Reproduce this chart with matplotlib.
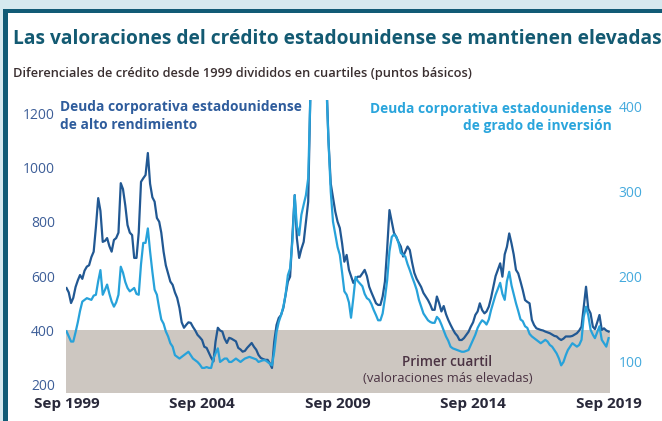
import pandas as pd
import matplotlib
matplotlib.use("Agg")
import matplotlib.pyplot as plt
from matplotlib.patches import Rectangle

plt.rcParams['font.family'] = ['Open Sans', 'DejaVu Sans']

W, H = 662, 421

# monthly spreads, Sep 1999 .. Sep 2019 (basis points)
high_yield = [
    556, 540, 501, 520,
    560, 585, 604, 590, 620, 635, 640, 670, 690, 780, 887, 840,
    726, 730, 740, 710, 690, 733, 740, 760, 942, 920, 860, 788,
    760, 751, 667, 667, 760, 947, 960, 972, 1053, 940, 890, 874,
    814, 800, 760, 690, 640, 610, 580, 568, 540, 520, 483, 430,
    410, 421, 430, 428, 413, 400, 384, 375, 365, 340, 336, 318,
    300, 286, 359, 410, 400, 396, 370, 354, 373, 370, 365, 360,
    336, 330, 322, 325, 336, 345, 354, 340, 329, 310, 299, 295,
    292, 292, 280, 262, 359, 420, 446, 457, 483, 530, 580, 598,
    751, 898, 740, 667, 700, 726, 800, 874, 1300, 1650, 1900, 1850,
    1700, 1650, 1600, 1350, 1100, 940, 890, 837, 800, 777, 720, 653,
    678, 623, 600, 575, 590, 598, 598, 610, 623, 600, 561, 540,
    520, 500, 494, 494, 525, 580, 700, 843, 800, 759, 744, 725,
    709, 672, 690, 709, 696, 650, 612, 590, 575, 560, 538, 525,
    512, 495, 476, 476, 525, 500, 470, 490, 460, 439, 421, 405,
    390, 380, 365, 365, 372, 384, 395, 414, 430, 457, 470, 500,
    475, 463, 470, 488, 520, 561, 600, 623, 647, 598, 680, 708,
    757, 720, 680, 623, 610, 580, 549, 512, 505, 500, 439, 420,
    408, 405, 402, 400, 396, 393, 390, 385, 380, 378, 370, 365,
    370, 378, 378, 378, 380, 385, 390, 400, 414, 488, 561, 480,
    463, 414, 405, 430, 457, 402, 408, 400, 396,
]

investment_grade = [
    136, 130, 124, 124,
    135, 147, 160, 171, 173, 175, 174, 173, 178, 179, 195, 208,
    179, 185, 191, 180, 171, 165, 170, 179, 212, 205, 194, 187,
    183, 185, 187, 180, 179, 215, 240, 240, 257, 230, 206, 185,
    179, 163, 150, 145, 136, 130, 122, 118, 108, 106, 104, 106,
    108, 110, 112, 108, 104, 102, 100, 97, 93, 93, 94, 93,
    93, 104, 110, 116, 100, 102, 104, 104, 100, 100, 102, 104,
    102, 100, 102, 104, 105, 106, 105, 104, 103, 100, 101, 102,
    102, 100, 98, 96, 112, 135, 147, 155, 165, 179, 202, 210,
    242, 296, 260, 249, 273, 285, 296, 316, 420, 520, 600, 620,
    560, 540, 560, 430, 360, 300, 265, 250, 235, 226, 205, 183,
    179, 170, 152, 175, 200, 195, 192, 189, 180, 175, 173, 168,
    161, 155, 149, 149, 157, 175, 196, 230, 247, 250, 247, 240,
    228, 226, 224, 215, 208, 200, 193, 185, 173, 165, 157, 153,
    149, 147, 146, 146, 153, 150, 144, 137, 130, 125, 118, 116,
    115, 114, 113, 112, 112, 113, 114, 120, 126, 132, 140, 145,
    149, 147, 144, 150, 161, 170, 179, 186, 193, 180, 173, 195,
    206, 190, 180, 169, 160, 150, 148, 142, 140, 133, 130, 128,
    126, 124, 122, 124, 126, 124, 120, 118, 114, 110, 104, 96,
    100, 108, 114, 118, 122, 120, 118, 120, 126, 153, 165, 155,
    138, 132, 128, 135, 142, 126, 122, 118, 128,
]

dates = pd.date_range('1999-09-01', periods=len(high_yield), freq='MS')
tick_dates = pd.to_datetime(['1999-09-01', '2004-09-01', '2009-09-01', '2014-09-01', '2019-09-01'])
tick_labels = ['Sep 1999', 'Sep 2004', 'Sep 2009', 'Sep 2014', 'Sep 2019']
left_ticks = [200, 400, 600, 800, 1000, 1200]
right_ticks = [100, 200, 300, 400]
quartile = (200, 400)

DARK = '#215893'
LIGHT = '#27a2da'

fig = plt.figure(figsize=(W / 100, H / 100), dpi=100)
fig.patch.set_facecolor('#d6e9ef')
fig.add_artist(Rectangle((3 / W, 0), 1, 1 - 9 / H, transform=fig.transFigure,
                         facecolor='#115b76', edgecolor='none', zorder=0))
fig.add_artist(Rectangle((8 / W, 0), 1, 1 - 13 / H, transform=fig.transFigure,
                         facecolor='white', edgecolor='none', zorder=0))


def px(x, y):
    return x / W, 1 - y / H


ax = fig.add_axes([66 / W, 28 / H, 544 / W, 293 / H])
ax.set_facecolor('none')
ax.axhspan(quartile[0] - 40, quartile[1], color='#cdc7c1', lw=0, zorder=0)
ax.plot(dates, high_yield, color=DARK, lw=1.6, zorder=2)
ax.set_ylim(170, 1248)
ax.set_xlim(pd.Timestamp('1999-08-25'), pd.Timestamp('2019-09-20'))
ax.set_yticks(left_ticks)
ax.set_xticks(tick_dates)
ax.set_xticklabels(tick_labels, fontsize=11, fontweight='bold', color='#29293a')
ax.tick_params(axis='y', length=0, pad=8, labelsize=10, labelcolor='#3d5e98')
ax.tick_params(axis='x', length=0, pad=3)

ax2 = ax.twinx()
ax2.plot(dates, investment_grade, color=LIGHT, lw=1.6, zorder=3)
ax2.set_ylim(63.5, 408)
ax2.set_yticks(right_ticks)
ax2.tick_params(axis='y', length=0, pad=6, labelsize=10, labelcolor='#45aadd')

for a in (ax, ax2):
    for s in a.spines.values():
        s.set_visible(False)

title = fig.text(*px(13, 39), 'Las valoraciones del crédito estadounidense se mantienen elevadas',
                 fontsize=17, fontweight='bold', color='#135a72', va='center', ha='left')
subtitle = fig.text(*px(13, 73), 'Diferenciales de crédito desde 1999 divididos en cuartiles (puntos básicos)',
                    fontsize=8, fontweight='semibold', color='#3a2f30', va='center', ha='left')

hy1 = fig.text(*px(60, 107), 'Deuda corporativa estadounidense', fontsize=9,
               fontweight='bold', color='#2e5c9c', va='center', ha='left')
hy2 = fig.text(*px(60, 125), 'de alto rendimiento', fontsize=9,
               fontweight='bold', color='#2e5c9c', va='center', ha='left')
ig1 = fig.text(*px(612, 109), 'Deuda corporativa estadounidense', fontsize=9,
               fontweight='bold', color='#2aa5dc', va='center', ha='right')
ig2 = fig.text(*px(612, 126), 'de grado de inversión', fontsize=9,
               fontweight='bold', color='#2aa5dc', va='center', ha='right')
q1 = fig.text(*px(447, 362), 'Primer cuartil', fontsize=9,
              fontweight='semibold', color='#4b3343', va='center', ha='center')
q2 = fig.text(*px(448, 378), '(valoraciones más elevadas)', fontsize=7.5,
              color='#4b3343', va='center', ha='center')

# size the headline texts to the widths seen in the reference
fig.canvas.draw()
r = fig.canvas.get_renderer()
for t, wpx in [(title, 647), (subtitle, 457), (hy1, 240), (ig1, 240), (q1, 91), (q2, 170)]:
    bb = t.get_window_extent(r)
    t.set_fontsize(t.get_fontsize() * wpx / bb.width)
hy2.set_fontsize(hy1.get_fontsize())
ig2.set_fontsize(ig1.get_fontsize())

fig.savefig('out.png', dpi=100, facecolor=fig.get_facecolor())
